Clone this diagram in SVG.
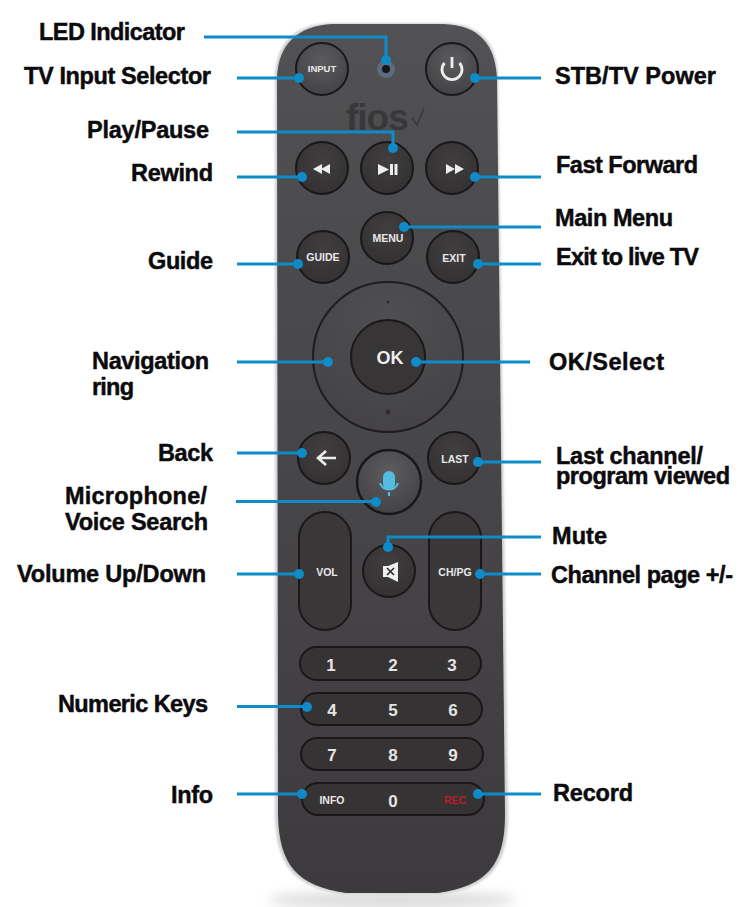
<svg xmlns="http://www.w3.org/2000/svg" width="754" height="907" viewBox="0 0 754 907">
<style>
text{font-family:"Liberation Sans",Arial,sans-serif;font-weight:700}
.l{font-size:23.5px;fill:#0b0a0c;stroke:#0b0a0c;stroke-width:.45px}
.b{stroke:#19171a;stroke-width:2}
.t{fill:#e8e8e8;font-size:10.5px;text-anchor:middle}
.n{fill:#e4e4e4;font-size:17px;text-anchor:middle}
.c{fill:none;stroke:#0f8bc9;stroke-width:3}
.d{fill:#0f8bc9}
.i{fill:#eeeeee}
</style>
<defs>
<linearGradient id="body" x1="0" y1="0" x2="0" y2="1"><stop offset="0" stop-color="#525154"/><stop offset=".3" stop-color="#4a494b"/><stop offset=".7" stop-color="#444245"/><stop offset="1" stop-color="#3c3a3d"/></linearGradient>
<radialGradient id="btn" cx=".5" cy=".35" r=".8"><stop offset="0" stop-color="#413e40"/><stop offset="1" stop-color="#312e30"/></radialGradient>
<radialGradient id="pow" cx=".5" cy=".35" r=".8"><stop offset="0" stop-color="#5c5b5e"/><stop offset="1" stop-color="#3e3c3e"/></radialGradient>
<radialGradient id="ring" cx=".5" cy=".25" r=".85"><stop offset="0" stop-color="#4f4e50"/><stop offset="1" stop-color="#434143"/></radialGradient>
<filter id="blur" x="-20%" y="-100%" width="140%" height="300%"><feGaussianBlur stdDeviation="6"/></filter>
<filter id="soft" x="-5%" y="-5%" width="110%" height="110%"><feGaussianBlur stdDeviation="1.200"/></filter>
</defs>
<rect width="754" height="907" fill="#ffffff"/>
<g id="remote">
<ellipse cx="392" cy="900" rx="125" ry="9" fill="#dcdcdc" filter="url(#blur)"/>
<path d="M330 23H445C480 24 497 42 498 76L508 815C508 868 488 888 440 894H344C296 888 276 868 275 815V76C276 42 296 24 330 23Z" fill="#cfcfd2" filter="url(#soft)"/>
<path d="M332 24H443C479 25 495 44 497 78L505 815C505 866 486 886 438 893H346C298 886 279 866 278 815L277 78C278 44 298 26 332 24Z" fill="url(#body)"/>
<text x="346" y="130" font-size="37" fill="#39373a" style="letter-spacing:-1px">fios</text>
<path d="M412 118L417 125L424 108" fill="none" stroke="#39373a" stroke-width="1.500"/>
</g>
<g id="led"><circle cx="386" cy="69" r="9" fill="#5e6a7e"/><circle cx="386" cy="69" r="4" fill="#17161a"/></g>
<g id="input"><circle class="b" cx="322" cy="69" r="26" style="fill:url(#pow)"/><text class="t" x="322" y="72" style="font-size:9.500px">INPUT</text></g>
<g id="power"><circle class="b" cx="452" cy="69" r="26" style="fill:url(#pow)"/><path d="M444.500 63A10 10 0 1 0 459.500 63" fill="none" stroke="#eee" stroke-width="2.800"/><path d="M452 57V68" stroke="#eee" stroke-width="2.800"/></g>
<g id="rewind"><circle class="b" cx="322" cy="168" r="26" style="fill:url(#btn)"/><path class="i" d="M313 169L322 164V174ZM321 169L330 164V174Z"/></g>
<g id="playpause"><circle class="b" cx="387" cy="168" r="26" style="fill:url(#btn)"/><path class="i" d="M378 164L389 169.500L378 175Z"/><rect class="i" x="390" y="164" width="3" height="11"/><rect class="i" x="394.500" y="164" width="3" height="11"/></g>
<g id="forward"><circle class="b" cx="452" cy="168" r="26" style="fill:url(#btn)"/><path class="i" d="M446 164L455 169L446 174ZM455 164L464 169L455 174Z"/></g>
<g id="menu"><circle class="b" cx="387" cy="238" r="26" style="fill:url(#btn)"/><text class="t" x="388" y="242">MENU</text></g>
<g id="guide"><circle class="b" cx="323" cy="257" r="26" style="fill:url(#btn)"/><text class="t" x="323" y="261">GUIDE</text></g>
<g id="exit"><circle class="b" cx="453" cy="257" r="26" style="fill:url(#btn)"/><text class="t" x="454" y="262">EXIT</text></g>
<g id="navring"><circle cx="388" cy="357" r="75" fill="url(#ring)" stroke="#1e1c1e" stroke-width="2"/><circle cx="388" cy="302" r="1.500" fill="#2f2d2f"/><circle cx="388" cy="412" r="2.500" fill="#2f2d2f"/><circle cx="388" cy="357" r="37" fill="#383537" stroke="#1a181a" stroke-width="2"/><text x="390" y="364" fill="#eee" font-size="18" text-anchor="middle">OK</text></g>
<g id="back"><circle class="b" cx="324" cy="458" r="26" style="fill:url(#btn)"/><path d="M336 458H319M326 451L318 458L326 465" fill="none" stroke="#eee" stroke-width="2.600"/></g>
<g id="last"><circle class="b" cx="454" cy="458" r="26" style="fill:url(#btn)"/><text class="t" x="455" y="463">LAST</text></g>
<g id="mic"><circle cx="389" cy="482" r="32" fill="url(#pow)" stroke="#19171a" stroke-width="2.500"/><rect x="383" y="471" width="12" height="19" rx="6" fill="#52bde0"/><path d="M380 483A9.500 9.500 0 0 0 398 483M389 492V496" fill="none" stroke="#52bde0" stroke-width="2"/></g>
<g id="vol"><rect class="b" x="299" y="512" width="52" height="118" rx="26" style="fill:#3a3739"/><text class="t" x="327" y="576">VOL</text></g>
<g id="chpg"><rect class="b" x="429" y="512" width="52" height="118" rx="26" style="fill:#3a3739"/><text class="t" x="455" y="576">CH/PG</text></g>
<g id="mute"><circle class="b" cx="389" cy="571" r="26" style="fill:url(#btn)"/><path class="i" d="M383 566H388L398 562V582L388 577H383Z"/><path d="M387 568L394 575M394 568L387 575" stroke="#2f2c2e" stroke-width="1.600"/></g>
<g id="keys123"><rect class="b" x="300" y="647" width="181" height="33" rx="16.500" style="fill:#363335"/><text class="n" x="331" y="671">1</text><text class="n" x="393" y="671">2</text><text class="n" x="452" y="671">3</text></g>
<g id="keys456"><rect class="b" x="301" y="693" width="181" height="32" rx="16" style="fill:#363335"/><text class="n" x="332" y="716">4</text><text class="n" x="393" y="716">5</text><text class="n" x="453" y="716">6</text></g>
<g id="keys789"><rect class="b" x="301" y="738" width="182" height="32" rx="16" style="fill:#363335"/><text class="n" x="332" y="761">7</text><text class="n" x="393" y="761">8</text><text class="n" x="453" y="761">9</text></g>
<g id="keys0"><rect class="b" x="302" y="783" width="182" height="32" rx="16" style="fill:#363335"/><text class="t" x="332" y="804">INFO</text><text class="n" x="393" y="807">0</text><text class="t" x="455" y="804" style="fill:#b5202c">REC</text></g>
<g id="connectors">
<path class="c" d="M204 37H386V60M237 78H299M475 78H541M237 132H393V148M237 177H302M475 177H541M404 227H541M237 264H298M478 264H541M237 362H324M416 362H530M237 453H302M478 462H541M236 501.500H376M388 547V537H541M237 574H299M480 574H541M237 706.500H307M237 794H302M478 794H541"/>
<g class="d"><circle cx="386" cy="60" r="5"/><circle cx="299" cy="78" r="5"/><circle cx="475" cy="78" r="5"/><circle cx="393" cy="148" r="5"/><circle cx="302" cy="177" r="5"/><circle cx="475" cy="177" r="5"/><circle cx="404" cy="227" r="5"/><circle cx="298" cy="264" r="5"/><circle cx="478" cy="264" r="5"/><circle cx="328" cy="362" r="5"/><circle cx="416" cy="362" r="5"/><circle cx="302" cy="453" r="5"/><circle cx="478" cy="462" r="5"/><circle cx="376" cy="502" r="5"/><circle cx="388" cy="547" r="5"/><circle cx="299" cy="574" r="5"/><circle cx="480" cy="574" r="5"/><circle cx="307" cy="707" r="5"/><circle cx="302" cy="794" r="5"/><circle cx="478" cy="794" r="5"/></g>
</g>
<g id="labels">
<text class="l" x="39" y="40" textLength="146">LED Indicator</text>
<text class="l" x="24" y="84" textLength="187">TV Input Selector</text>
<text class="l" x="87" y="138" textLength="122">Play/Pause</text>
<text class="l" x="131" y="181" textLength="82">Rewind</text>
<text class="l" x="148" y="269" textLength="65">Guide</text>
<text class="l" x="92" y="369" textLength="117">Navigation</text>
<text class="l" x="92" y="395" textLength="42">ring</text>
<text class="l" x="158" y="461" textLength="55">Back</text>
<text class="l" x="65" y="504" textLength="142">Microphone/</text>
<text class="l" x="65" y="530" textLength="143">Voice Search</text>
<text class="l" x="17" y="582" textLength="189">Volume Up/Down</text>
<text class="l" x="58" y="712" textLength="150">Numeric Keys</text>
<text class="l" x="171" y="803" textLength="42">Info</text>
<text class="l" x="555" y="84" textLength="161">STB/TV Power</text>
<text class="l" x="556" y="173" textLength="142">Fast Forward</text>
<text class="l" x="555" y="226" textLength="118">Main Menu</text>
<text class="l" x="556" y="265" textLength="143">Exit to live TV</text>
<text class="l" x="549" y="370" textLength="115">OK/Select</text>
<text class="l" x="556" y="464" textLength="147">Last channel/</text>
<text class="l" x="556" y="484" textLength="174">program viewed</text>
<text class="l" x="552" y="544" textLength="55">Mute</text>
<text class="l" x="551" y="583" textLength="182">Channel page +/-</text>
<text class="l" x="553" y="801" textLength="80">Record</text>
</g>
</svg>
